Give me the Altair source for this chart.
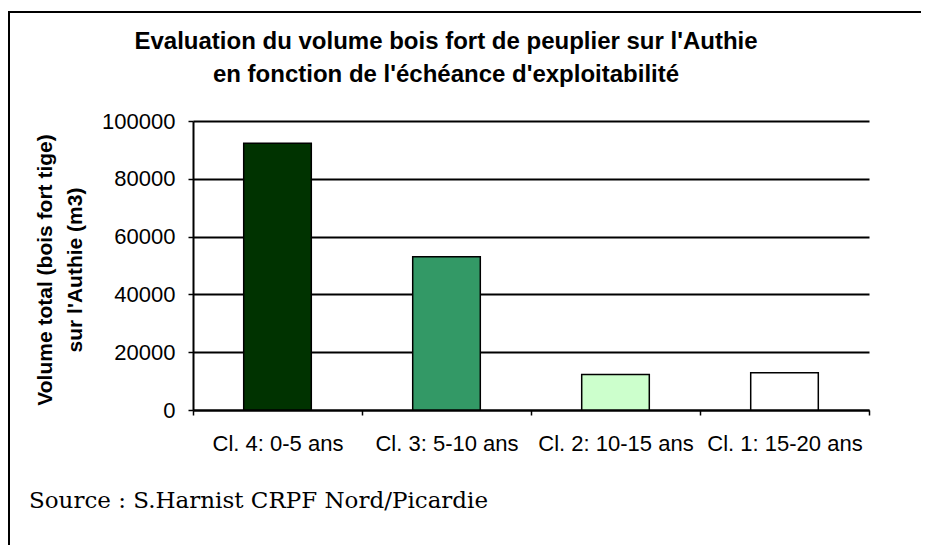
import altair as alt
import pandas as pd

# ---- data ----
categories = ["Cl. 4: 0-5 ans", "Cl. 3: 5-10 ans", "Cl. 2: 10-15 ans", "Cl. 1: 15-20 ans"]
volumes = [92300, 53000, 12300, 12900]
y_ticks = [0, 20000, 40000, 60000, 80000, 100000]

title_lines = ["Evaluation du volume bois fort de peuplier sur l'Authie",
               "en fonction de l'échéance d'exploitabilité"]
y_title_lines = ["Volume total (bois fort tige)", "sur l'Authie (m3)"]
source_text = "Source : S.Harnist CRPF Nord/Picardie"

bar_colors = ["#003300", "#339966", "#CCFFCC", "#FFFFFF"]

df = pd.DataFrame({"classe": categories, "volume": volumes})
one = pd.DataFrame({"k": [0]})

W, H = 676, 289
SANS = "Liberation Sans"

bars = alt.Chart(df).mark_bar(
    width={"band": 0.4}, stroke="black", strokeWidth=1.5
).encode(
    x=alt.X("classe:N", sort=categories,
            scale=alt.Scale(paddingInner=0, paddingOuter=0),
            axis=alt.Axis(title=None, tickBand="extent", labelAngle=0,
                          labelFont=SANS, labelFontSize=22, labelColor="black",
                          labelPadding=18.5, labelOverlap=False, labelLimit=300,
                          tickSize=5, tickColor="black", tickWidth=1.5,
                          domainColor="black", domainWidth=2, grid=False)),
    y=alt.Y("volume:Q",
            scale=alt.Scale(domain=[0, 100000], nice=False),
            axis=alt.Axis(values=y_ticks, format="d",
                          title=y_title_lines, titleFont=SANS, titleFontSize=21,
                          titleFontWeight="bold", titleColor="black",
                          titleAngle=270, titleBaseline="top", titleAlign="center",
                          titleLineHeight=30, titleX=-159, titleY=H / 2 + 4,
                          labelFont=SANS, labelFontSize=22, labelColor="black",
                          labelPadding=13, tickSize=5, tickColor="black",
                          tickWidth=1.5, domainColor="black", domainWidth=2,
                          grid=True, gridColor="black", gridWidth=2,
                          gridOpacity=1)),
    color=alt.Color("classe:N", sort=categories,
                    scale=alt.Scale(domain=categories, range=bar_colors),
                    legend=None),
)

title = alt.Chart(one).mark_text(
    text=title_lines, font=SANS, fontSize=24, fontWeight="bold",
    color="black", align="center", baseline="top", lineHeight=32.5
).encode(x=alt.value(253), y=alt.value(-91))

source = alt.Chart(one).mark_text(
    text=source_text, font="DejaVu Serif", fontSize=23, color="black",
    align="left", baseline="alphabetic"
).encode(x=alt.value(-164), y=alt.value(387))

frame_top = alt.Chart(one).mark_rule(color="black", strokeWidth=2).encode(
    x=alt.value(-185), x2=alt.value(728), y=alt.value(-109), y2=alt.value(-109))
frame_left = alt.Chart(one).mark_rule(color="black", strokeWidth=2).encode(
    x=alt.value(-184), y=alt.value(-110), y2=alt.value(424))

chart = alt.layer(bars, title, source, frame_top, frame_left).properties(
    width=W, height=H,
    autosize=alt.AutoSizeParams(type="none"),
    padding={"left": 185, "top": 113, "right": 52, "bottom": 135},
    background="white",
).configure_view(stroke=None)

chart.save("out.html", embed_options={"renderer": "svg", "actions": False})
